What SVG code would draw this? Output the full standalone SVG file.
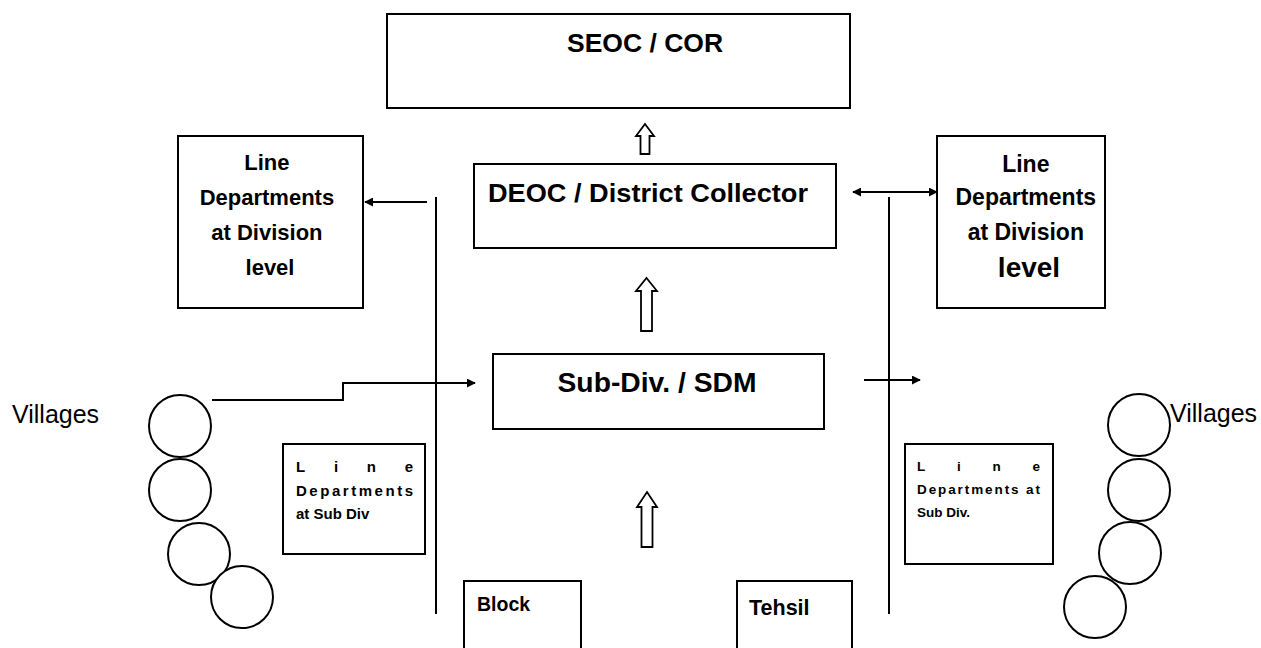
<svg xmlns="http://www.w3.org/2000/svg" width="1261" height="648" viewBox="0 0 1261 648">
<style>
.box{fill:#fff;stroke:#000;stroke-width:2}
.ln{fill:none;stroke:#000;stroke-width:2}
.blk{fill:#fff;stroke:#000;stroke-width:1.8;stroke-linejoin:miter}
.t{font-family:"Liberation Sans",Arial,sans-serif;font-weight:bold;fill:#000}
.v{font-family:"Liberation Sans",Arial,sans-serif;fill:#000;font-size:25px}
.c{fill:#fff;stroke:#000;stroke-width:2}
</style>
<defs>
<marker id="ah" viewBox="0 0 10 10" refX="9" refY="5" markerWidth="9" markerHeight="9" markerUnits="userSpaceOnUse" orient="auto-start-reverse">
<path d="M0,0 L10,5 L0,10 z" fill="#000"/>
</marker>
</defs>

<g id="seoc">
<rect class="box" x="387" y="14" width="463" height="94"/>
<text class="t" x="645" y="52" font-size="26.5" text-anchor="middle">SEOC / COR</text>
</g>

<g id="deoc">
<rect class="box" x="474" y="164" width="362" height="84"/>
<text class="t" x="488" y="202" font-size="26" textLength="320" lengthAdjust="spacingAndGlyphs">DEOC / District Collector</text>
</g>

<g id="subdiv">
<rect class="box" x="493" y="354" width="331" height="75"/>
<text class="t" x="657" y="392" font-size="27" text-anchor="middle" textLength="199" lengthAdjust="spacingAndGlyphs">Sub-Div. / SDM</text>
</g>

<g id="block">
<rect class="box" x="464" y="581" width="117" height="80"/>
<text class="t" x="477" y="611" font-size="19.5">Block</text>
</g>

<g id="tehsil">
<rect class="box" x="737" y="581" width="115" height="80"/>
<text class="t" x="749" y="615" font-size="21.5">Tehsil</text>
</g>

<g id="ld-div-left">
<rect class="box" x="178" y="136" width="185" height="172"/>
<text class="t" font-size="22" text-anchor="middle">
<tspan x="270" y="170">Line</tspan>
<tspan x="270" y="205">Departments</tspan>
<tspan x="270" y="240">at Division</tspan>
<tspan x="270" y="275">level</tspan>
</text>
</g>

<g id="ld-div-right">
<rect class="box" x="937" y="136" width="168" height="172"/>
<text class="t" font-size="23" text-anchor="middle">
<tspan x="1029" y="172">Line</tspan>
<tspan x="1029" y="205">Departments</tspan>
<tspan x="1029" y="240">at Division</tspan>
<tspan x="1029" y="277" font-size="28">level</tspan>
</text>
</g>

<g id="ld-sub-left">
<rect class="box" x="283" y="444" width="142" height="110"/>
<text class="t" font-size="15">
<tspan x="296" y="472" textLength="117" lengthAdjust="spacing">Line</tspan>
<tspan x="296" y="496" textLength="117" lengthAdjust="spacing">Departments</tspan>
<tspan x="296" y="519">at Sub Div</tspan>
</text>
</g>

<g id="ld-sub-right">
<rect class="box" x="905" y="444" width="148" height="120"/>
<text class="t" font-size="13.5">
<tspan x="917" y="471" textLength="123" lengthAdjust="spacing">Line</tspan>
<tspan x="917" y="494" textLength="123" lengthAdjust="spacing">Departments at</tspan>
<tspan x="917" y="517">Sub Div.</tspan>
</text>
</g>

<g id="villages-left">
<text class="v" x="12" y="423">Villages</text>
<circle class="c" cx="180" cy="426" r="31"/>
<circle class="c" cx="180" cy="490" r="31"/>
<circle class="c" cx="199" cy="554" r="31"/>
<circle class="c" cx="242" cy="597" r="31"/>
</g>

<g id="villages-right">
<circle class="c" cx="1139" cy="425" r="31"/>
<circle class="c" cx="1139" cy="490" r="31"/>
<circle class="c" cx="1130" cy="553" r="31"/>
<circle class="c" cx="1095" cy="607" r="31"/>
<text class="v" x="1170" y="422">Villages</text>
</g>

<g id="connectors">
<path class="blk" d="M645,124 L654,136 L649.5,136 L649.5,154 L640.5,154 L640.5,136 L636,136 Z"/>
<path class="blk" d="M646.5,278 L657,291 L652,291 L652,331 L641,331 L641,291 L636,291 Z"/>
<path class="blk" d="M647,492 L657,507 L652.5,507 L652.5,547 L641.5,547 L641.5,507 L637,507 Z"/>
<line class="ln" x1="436" y1="197" x2="436" y2="614"/>
<line class="ln" x1="889" y1="197" x2="889" y2="614"/>
<line class="ln" x1="427" y1="202" x2="365" y2="202" marker-end="url(#ah)"/>
<line class="ln" x1="853" y1="192" x2="937" y2="192" marker-start="url(#ah)" marker-end="url(#ah)"/>
<polyline class="ln" points="212,400 343,400 343,383 475,383" marker-end="url(#ah)"/>
<line class="ln" x1="864" y1="380" x2="920" y2="380" marker-end="url(#ah)"/>
</g>
</svg>
